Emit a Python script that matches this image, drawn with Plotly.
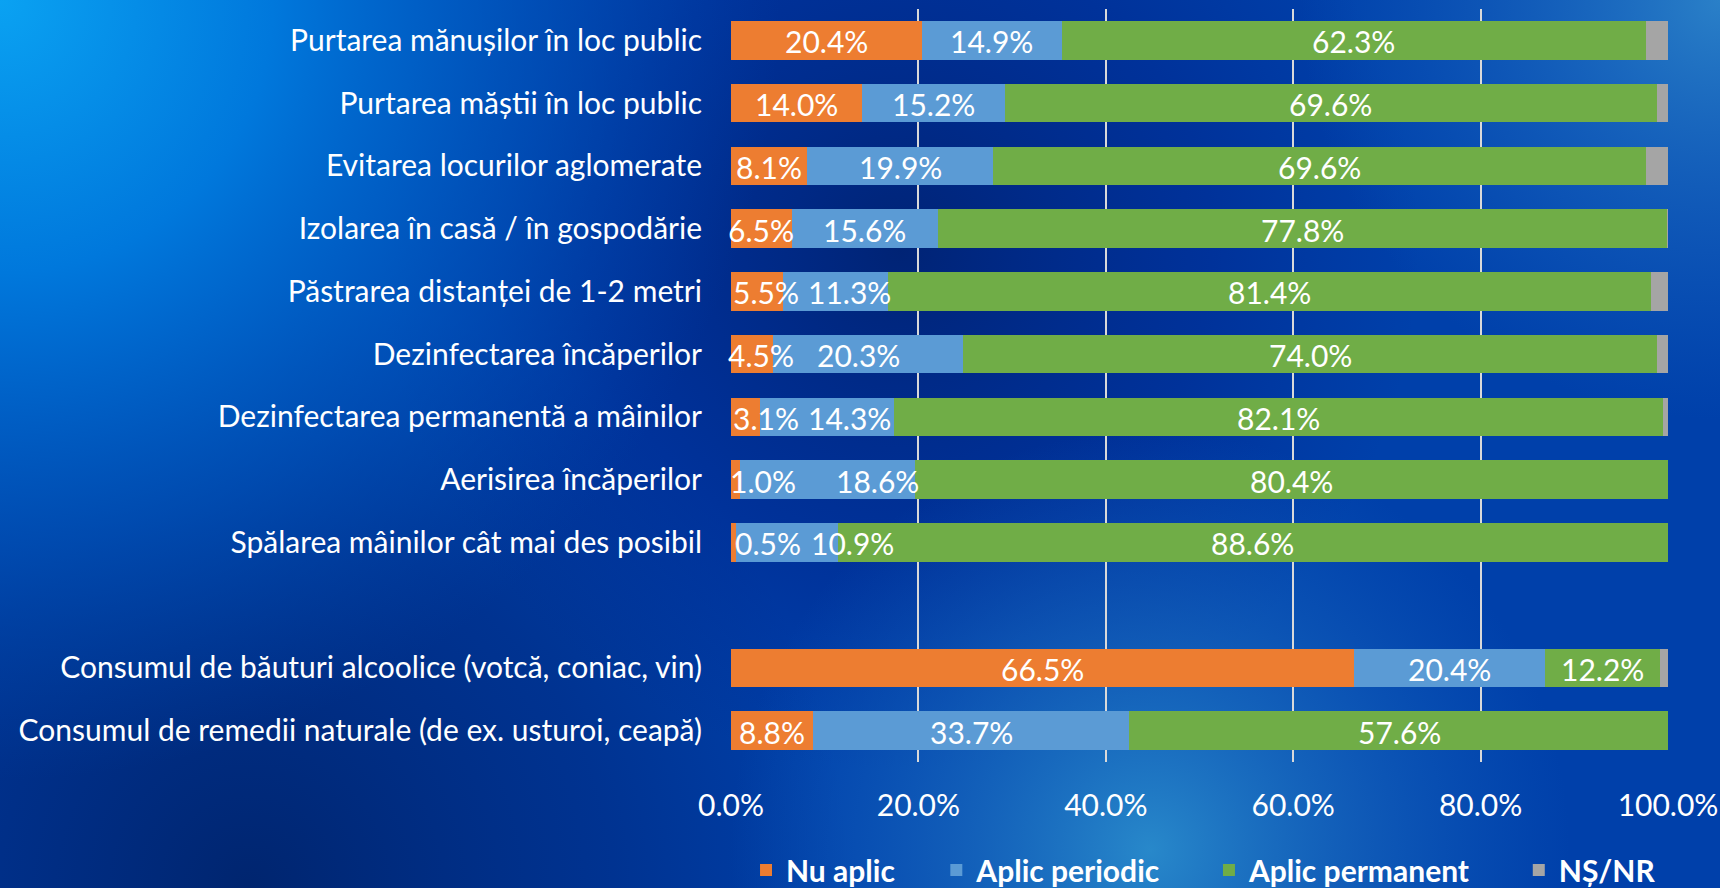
import base64
import plotly.graph_objects as go

# ---------------- data ----------------
categories = [
    "Purtarea mănușilor în loc public",
    "Purtarea măștii în loc public",
    "Evitarea locurilor aglomerate",
    "Izolarea în casă / în gospodărie",
    "Păstrarea distanței de 1-2 metri",
    "Dezinfectarea încăperilor",
    "Dezinfectarea permanentă a mâinilor",
    "Aerisirea încăperilor",
    "Spălarea mâinilor cât mai des posibil",
    " ",
    "Consumul de băuturi alcoolice (votcă, coniac, vin)",
    "Consumul de remedii naturale (de ex. usturoi, ceapă)",
]
series_names = ["Nu aplic", "Aplic periodic", "Aplic permanent", "NȘ/NR"]
nu_aplic        = [20.4, 14.0, 8.1, 6.5, 5.5, 4.5, 3.1, 1.0, 0.5, None, 66.5, 8.8]
aplic_periodic  = [14.9, 15.2, 19.9, 15.6, 11.3, 20.3, 14.3, 18.6, 10.9, None, 20.4, 33.7]
aplic_permanent = [62.3, 69.6, 69.6, 77.8, 81.4, 74.0, 82.1, 80.4, 88.6, None, 12.2, 57.6]
ns_nr           = [2.4, 1.2, 2.4, 0.1, 1.8, 1.2, 0.5, 0.0, 0.0, None, 0.9, 0.0]
x_tick_values = [0, 20, 40, 60, 80, 100]
x_tick_labels = ["0.0%", "20.0%", "40.0%", "60.0%", "80.0%", "100.0%"]

# ---------------- style ----------------
colors = ["#ED7D31", "#5B9BD5", "#70AD47", "#A5A5A5"]
FONT = "Lato, 'Open Sans', sans-serif"
FS = 30
legend_pad = [5, 6, 6, 0]   # trailing spaces after each legend entry
# pixel nudges of crowded data labels (category index, series index) -> px
label_nudge = {(4, 0): 9, (4, 1): 14, (5, 0): 9, (5, 1): -10, (6, 0): 20, (6, 1): 22,
               (7, 0): 27, (7, 1): 50, (8, 0): 35, (8, 1): 66}

W, H = 1720, 888
L, R, T, B = 731, 52, 9, 126
PW, PH = W - L - R, H - T - B

svg = f'''<svg xmlns="http://www.w3.org/2000/svg" width="{W}" height="{H}" viewBox="0 0 {W} {H}">
<defs>
<radialGradient id="tl" gradientUnits="userSpaceOnUse" cx="0" cy="0" r="780">
<stop offset="0" stop-color="#0aa2f2"/><stop offset="0.35" stop-color="#0078dc"/>
<stop offset="0.7" stop-color="#0058c0" stop-opacity="0.6"/><stop offset="1" stop-color="#0048b0" stop-opacity="0"/></radialGradient>
<radialGradient id="ctr" gradientUnits="userSpaceOnUse" cx="900" cy="250" r="520">
<stop offset="0" stop-color="#00206f" stop-opacity="0.9"/><stop offset="0.6" stop-color="#00248a" stop-opacity="0.5"/>
<stop offset="1" stop-color="#00288f" stop-opacity="0"/></radialGradient>
<radialGradient id="bot" gradientUnits="userSpaceOnUse" cx="1150" cy="850" r="420">
<stop offset="0" stop-color="#2a8ccc" stop-opacity="0.95"/><stop offset="0.5" stop-color="#1a6cc0" stop-opacity="0.6"/>
<stop offset="1" stop-color="#1060c0" stop-opacity="0"/></radialGradient>
<radialGradient id="tr" gradientUnits="userSpaceOnUse" cx="1720" cy="0" r="420">
<stop offset="0" stop-color="#2a80c8"/><stop offset="0.6" stop-color="#1866c0" stop-opacity="0.5"/>
<stop offset="1" stop-color="#1060c0" stop-opacity="0"/></radialGradient>
<radialGradient id="bl" gradientUnits="userSpaceOnUse" cx="250" cy="888" r="600">
<stop offset="0" stop-color="#00256f"/><stop offset="0.6" stop-color="#002a80" stop-opacity="0.6"/>
<stop offset="1" stop-color="#002a80" stop-opacity="0"/></radialGradient>
</defs>
<rect width="{W}" height="{H}" fill="#0040aa"/>
<rect width="{W}" height="{H}" fill="url(#bl)"/>
<rect width="{W}" height="{H}" fill="url(#ctr)"/>
<rect width="{W}" height="{H}" fill="url(#bot)"/>
<rect width="{W}" height="{H}" fill="url(#tr)"/>
<rect width="{W}" height="{H}" fill="url(#tl)"/>
</svg>'''
bg_src = "data:image/svg+xml;base64," + base64.b64encode(svg.encode("utf-8")).decode("ascii")

all_series = [nu_aplic, aplic_periodic, aplic_permanent, ns_nr]

fig = go.Figure()
for si, (name, vals) in enumerate(zip(series_names, all_series)):
    fig.add_trace(go.Bar(
        y=categories, x=vals, name=name + "\u00a0" * legend_pad[si], orientation="h",
        marker=dict(color=colors[si], line=dict(width=0)),
        hoverinfo="skip",
    ))

# data labels
annotations = []
for ci, cat in enumerate(categories):
    start = 0.0
    for si in range(3):
        v = all_series[si][ci]
        if v is None:
            continue
        annotations.append(dict(
            x=start + v / 2, y=cat, xref="x", yref="y", text=f"{v:.1f}%",
            showarrow=False, font=dict(family=FONT, size=FS, color="white"),
            xshift=label_nudge.get((ci, si), 0), yshift=-1,
        ))
        start += v

fig.update_layout(
    width=W, height=H,
    margin=dict(l=L, r=R, t=T, b=B, pad=0, autoexpand=False),
    barmode="stack", bargap=0.39,
    paper_bgcolor="#0040aa", plot_bgcolor="rgba(0,0,0,0)",
    font=dict(family=FONT, size=FS, color="white"),
    showlegend=True,
    legend=dict(orientation="h", x=0.5043, xanchor="center", y=-0.1434, yanchor="middle",
                font=dict(family=FONT, size=FS, color="white", weight="bold"),
                bgcolor="rgba(0,0,0,0)", traceorder="normal"),
    annotations=annotations,
    images=[dict(source=bg_src, xref="paper", yref="paper",
                 x=-L / PW, y=1 + T / PH, sizex=W / PW, sizey=H / PH,
                 xanchor="left", yanchor="top", sizing="stretch", layer="below")],
    xaxis=dict(range=[0, 100], tickvals=x_tick_values, ticktext=x_tick_labels,
               showgrid=True, gridcolor="#D9D9D9", gridwidth=1.5,
               zeroline=False, showline=False, ticks="",
               ticklabelstandoff=23, tickfont=dict(family=FONT, size=FS, color="white"),
               fixedrange=True),
    yaxis=dict(categoryorder="array", categoryarray=categories, autorange="reversed",
               showgrid=False, zeroline=False, showline=False, ticks="",
               ticklabelstandoff=28, tickfont=dict(family=FONT, size=FS, color="white"),
               fixedrange=True),
)

fig.write_html("out.html", include_plotlyjs=True, config={"displayModeBar": False},
               post_script="document.body.style.margin='0';document.body.style.padding='0';"
                           "document.body.style.overflow='hidden';")
